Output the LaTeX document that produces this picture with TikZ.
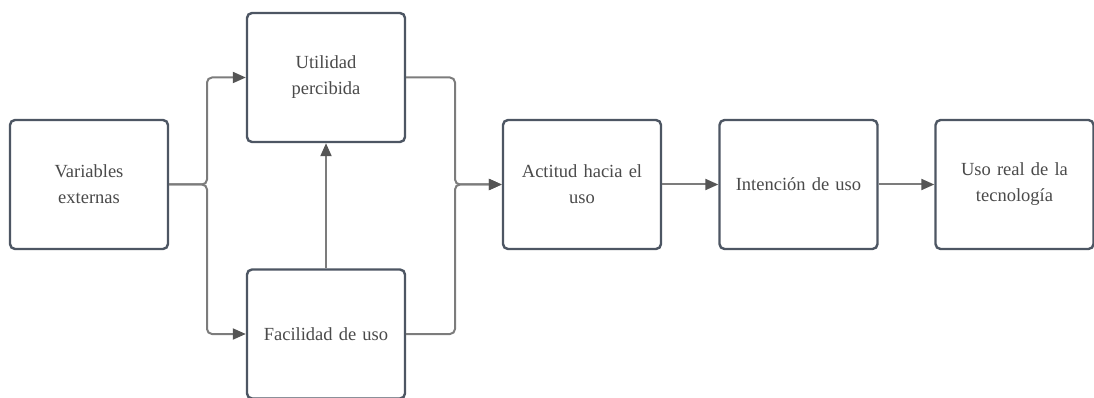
\documentclass[tikz,border=0pt]{standalone}
\usepackage{fontspec}
\setmainfont{Liberation Serif}
\usetikzlibrary{arrows.meta}
\definecolor{boxline}{HTML}{4D5663}
\definecolor{wire}{HTML}{7C7C7C}
\definecolor{tip}{HTML}{555555}
\definecolor{ink}{HTML}{4A4A4A}
\tikzset{
  stage/.style={draw=boxline, line width=2.4pt, rounded corners=5pt, fill=white,
    minimum width=158pt, minimum height=129pt, inner sep=0pt,
    align=center, text width=150pt, text=ink,
    font=\fontsize{18.5}{26}\selectfont},
  link/.style={draw=wire, line width=2pt, rounded corners=5pt,
    -{Triangle[length=13pt,width=11pt,color=tip]}}
}
\begin{document}
\begin{tikzpicture}[x=1pt,y=-1pt]
\useasboundingbox (0,0) rectangle (1094,398);
% boxes (centres in pixel units)
\node[stage] (ve) at (89,184.5) {Variables\\externas};
\node[stage] (up) at (326,77.5) {Utilidad\\percibida};
\node[stage] (fu) at (326,334) {Facilidad de uso};
\node[stage] (ac) at (582,184.5) {Actitud hacia el\\uso};
\node[stage] (iu) at (798.5,184.5) {Intenci\'on de uso};
\node[stage] (ur) at (1014.5,184.5) {Uso real de la\\tecnolog\'ia};
% branch points
\coordinate (split) at (207,184.5);
\coordinate (merge) at (455,184.5);
% external variables feed both perceptions
\draw[link] (ve.east) -- (split) |- (up.west);
\draw[link] (ve.east) -- (split) |- (fu.west);
% ease of use influences usefulness
\draw[link] (fu.north) -- (up.south);
% both perceptions lead to attitude
\draw[link] (up.east) -| (merge) -- (ac.west);
\draw[link] (fu.east) -| (merge) -- (ac.west);
% chain to actual use
\draw[link] (ac.east) -- (iu.west);
\draw[link] (iu.east) -- (ur.west);
\end{tikzpicture}
\end{document}
